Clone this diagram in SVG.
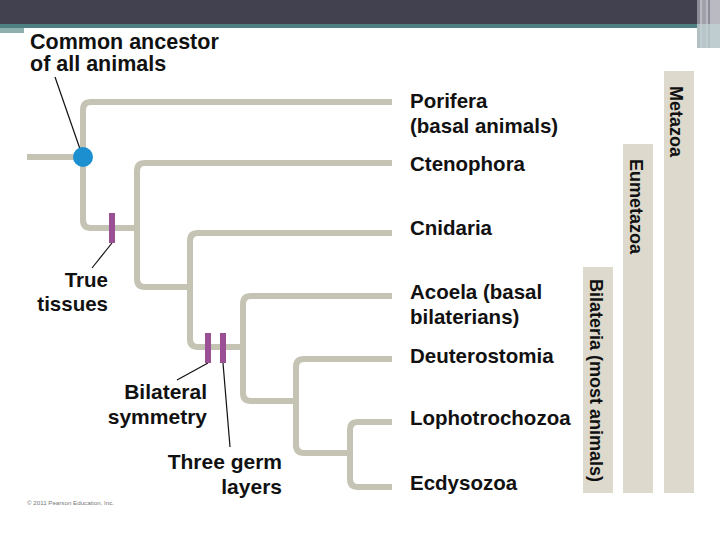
<svg xmlns="http://www.w3.org/2000/svg" width="720" height="540" viewBox="0 0 720 540">
<style>
.br{fill:none;stroke:#c5c3b3;stroke-width:6;stroke-linecap:butt}
.lbl{font-family:"Liberation Sans",Arial,sans-serif;font-weight:bold;font-size:20.5px;fill:#111}
.vl{font-family:"Liberation Sans",Arial,sans-serif;font-weight:bold;font-size:18px;fill:#111}
.ld{stroke:#111;stroke-width:1.2;fill:none}
.mk{fill:#9a4f95}
.bar{fill:#dddacd}
</style>
<rect width="720" height="540" fill="#ffffff"/>
<g id="header">
<rect x="0" y="0" width="720" height="24" fill="#42414f"/>
<rect x="0" y="24" width="697" height="4" fill="#4e8081"/>
<rect x="0" y="28" width="24" height="5" fill="#8db0ae"/>
<rect x="697" y="0" width="23" height="48" fill="#b9bac2"/>
<rect x="697" y="0" width="3" height="48" fill="#8c8d98"/>
<rect x="702" y="0" width="4" height="48" fill="#a0a1ab"/>
<rect x="708" y="0" width="2" height="48" fill="#8c8d98"/>
<rect x="697" y="24" width="23" height="24" fill="#c3d6d6" opacity="0.7"/>
</g>
<g id="connectors">
<path class="br" d="M27,157 H83"/>
<path class="br" d="M392,102 H91 Q83,102 83,110 V220 Q83,228 91,228 H137"/>
<path class="br" d="M392,163 H145 Q137,163 137,171 V279 Q137,287 145,287 H190"/>
<path class="br" d="M392,233 H198 Q190,233 190,241 V339 Q190,347 198,347 H243"/>
<path class="br" d="M392,296 H251 Q243,296 243,304 V393 Q243,401 251,401 H296"/>
<path class="br" d="M392,359 H304 Q296,359 296,367 V445 Q296,453 304,453 H350"/>
<path class="br" d="M392,422 H358 Q350,422 350,430 V479 Q350,487 358,487 H392"/>
<line class="ld" x1="55" y1="77" x2="80" y2="149"/>
<line class="ld" x1="92" y1="268" x2="112" y2="243"/>
<line class="ld" x1="177" y1="380" x2="208" y2="363"/>
<line class="ld" x1="223" y1="363" x2="230" y2="447"/>
</g>
<g id="ancestor">
<circle cx="83" cy="157" r="10" fill="#1b8fd0"/>
<text class="lbl" x="30" y="49" style="font-size:21.5px">Common ancestor</text>
<text class="lbl" x="30" y="71" style="font-size:21.5px">of all animals</text>
</g>
<g id="true-tissues">
<rect class="mk" x="109" y="213" width="6" height="30"/>
<text class="lbl" x="108" y="287" text-anchor="end">True</text>
<text class="lbl" x="108" y="311" text-anchor="end">tissues</text>
</g>
<g id="bilateral">
<rect class="mk" x="205" y="333" width="6" height="30"/>
<text class="lbl" x="207" y="399" text-anchor="end" style="font-size:21px">Bilateral</text>
<text class="lbl" x="207" y="424" text-anchor="end" style="font-size:21px">symmetry</text>
</g>
<g id="germ-layers">
<rect class="mk" x="220" y="333" width="6" height="30"/>
<text class="lbl" x="282" y="469" text-anchor="end" style="font-size:21px">Three germ</text>
<text class="lbl" x="282" y="494" text-anchor="end" style="font-size:21px">layers</text>
</g>
<g id="porifera"><text class="lbl" x="410" y="108">Porifera</text><text class="lbl" x="410" y="133">(basal animals)</text></g>
<g id="ctenophora"><text class="lbl" x="410" y="171">Ctenophora</text></g>
<g id="cnidaria"><text class="lbl" x="410" y="235">Cnidaria</text></g>
<g id="acoela"><text class="lbl" x="410" y="299">Acoela (basal</text><text class="lbl" x="410" y="324">bilaterians)</text></g>
<g id="deuterostomia"><text class="lbl" x="410" y="363">Deuterostomia</text></g>
<g id="lophotrochozoa"><text class="lbl" x="410" y="425">Lophotrochozoa</text></g>
<g id="ecdysozoa"><text class="lbl" x="410" y="490">Ecdysozoa</text></g>
<g id="bilateria">
<rect class="bar" x="583" y="267" width="30" height="226"/>
<text class="vl" transform="translate(590,279) rotate(90)">Bilateria (most animals)</text>
</g>
<g id="eumetazoa">
<rect class="bar" x="623" y="144" width="30" height="349"/>
<text class="vl" transform="translate(630,159) rotate(90)">Eumetazoa</text>
</g>
<g id="metazoa">
<rect class="bar" x="664" y="71" width="30" height="422"/>
<text class="vl" transform="translate(670,86) rotate(90)">Metazoa</text>
</g>
<text x="27" y="505" font-family="Liberation Sans, Arial, sans-serif" font-size="6.2" fill="#777">© 2011 Pearson Education, Inc.</text>
</svg>
